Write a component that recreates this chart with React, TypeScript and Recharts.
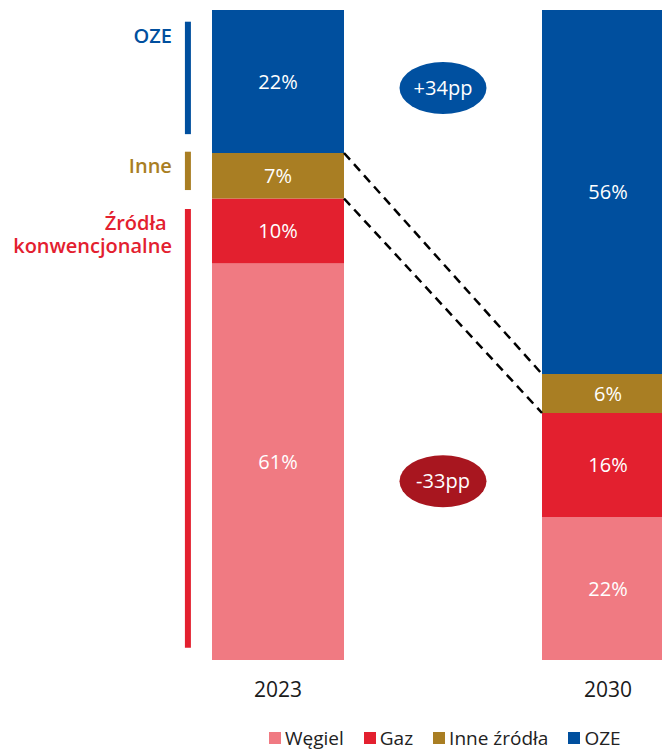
import { ComposedChart, Bar, XAxis, YAxis, ReferenceLine, ReferenceDot, Legend, LabelList } from "recharts";

const years = ["2023", "2030"];
const seriesNames = ["Węgiel", "Gaz", "Inne źródła", "OZE"];
const wegiel = [61, 22];
const gaz = [10, 16];
const inne = [7, 6];
const oze = [22, 56];

// brackets on the left of the 2023 bar (value ranges on the 0-100 scale)
const bracketNames = [["OZE"], ["Inne"], ["Źródła\u00a0", "konwencjonalne"]];
const bracketFrom = [80.9, 72.3, 1.9];
const bracketTo = [98.2, 78.2, 69.4];

// change bubbles between the bars
const bubbleText = ["+34pp", "-33pp"];
const bubbleY = [88, 27.5];

const C = { wegiel: "#f07a82", gaz: "#e3202f", inne: "#a97e23", oze: "#004f9e" };
const seriesColors = [C.wegiel, C.gaz, C.inne, C.oze];
const bracketColors = [C.oze, C.inne, C.gaz];
const bubbleColors = ["#0050a0", "#a8161f"];
const font = "'Open Sans', sans-serif";

const data = years.map((year, i) => ({
  pos: i,
  year,
  wegiel: wegiel[i],
  gaz: gaz[i],
  inne: inne[i],
  oze: oze[i],
}));

const gazTop = years.map((_, i) => wegiel[i] + gaz[i]);
const inneTop = years.map((_, i) => wegiel[i] + gaz[i] + inne[i]);

const barSize = 132;
const barHalf = 66 / 330; // half bar width in x units (330px per unit)
const bracketX = -0.273;

const pct = (v: any) => `${v}%`;

const bracketLabel = (lines: string[], color: string) => (props: any) => {
  const { x, y } = props.viewBox;
  return (
    <text x={x - 16} y={y + 21} textAnchor="end" fill={color} fontSize={20} fontWeight={600} fontFamily={font}>
      {lines.map((l, i) => (
        <tspan key={i} x={x - 16} dy={i === 0 ? 0 : 23} style={{ whiteSpace: "pre" }}>
          {l}
        </tspan>
      ))}
    </text>
  );
};

const bubble = (color: string) => (props: any) => (
  <ellipse cx={props.cx} cy={props.cy} rx={43.5} ry={26} fill={color} />
);

const renderLegend = () => (
  <div style={{ display: "flex", gap: 20, fontFamily: font, fontSize: 19, lineHeight: "20px", color: "#222" }}>
    {seriesNames.map((name, i) => (
      <div key={name} style={{ display: "flex", alignItems: "center", gap: 4 }}>
        <span style={{ width: 12, height: 12, background: seriesColors[i], display: "inline-block" }} />
        <span>{name}</span>
      </div>
    ))}
  </div>
);

export default function App() {
  return (
    <div style={{ position: "fixed", left: 0, top: 0, width: 662, height: 749, overflow: "hidden", background: "#fff" }}>
      <ComposedChart width={780} height={749} data={data} margin={{ top: 10, right: 7, left: 113, bottom: 49 }}>
        <XAxis
          type="number"
          dataKey="pos"
          domain={[-0.5, 1.5]}
          ticks={[0, 1]}
          tickFormatter={(v) => years[v] ?? ""}
          height={40}
          tickLine={false}
          axisLine={false}
          tickMargin={16}
          tick={{ fill: "#1a1a1a", fontSize: 21, fontFamily: font }}
        />
        <YAxis hide domain={[0, 100]} />
        <Bar dataKey="wegiel" name={seriesNames[0]} stackId="a" fill={C.wegiel} barSize={barSize} isAnimationActive={false}>
          <LabelList dataKey="wegiel" position="center" formatter={pct} fill="#fff" fontSize={20} fontFamily={font} />
        </Bar>
        <Bar dataKey="gaz" name={seriesNames[1]} stackId="a" fill={C.gaz} barSize={barSize} isAnimationActive={false}>
          <LabelList dataKey="gaz" position="center" formatter={pct} fill="#fff" fontSize={20} fontFamily={font} />
        </Bar>
        <Bar dataKey="inne" name={seriesNames[2]} stackId="a" fill={C.inne} barSize={barSize} isAnimationActive={false}>
          <LabelList dataKey="inne" position="center" formatter={pct} fill="#fff" fontSize={20} fontFamily={font} />
        </Bar>
        <Bar dataKey="oze" name={seriesNames[3]} stackId="a" fill={C.oze} barSize={barSize} isAnimationActive={false}>
          <LabelList dataKey="oze" position="center" formatter={pct} fill="#fff" fontSize={20} fontFamily={font} />
        </Bar>

        <ReferenceLine
          segment={[{ x: barHalf, y: inneTop[0] }, { x: 1 - barHalf, y: inneTop[1] }]}
          stroke="#000"
          strokeWidth={2.5}
          strokeDasharray="9 6"
        />
        <ReferenceLine
          segment={[{ x: barHalf, y: gazTop[0] }, { x: 1 - barHalf, y: gazTop[1] }]}
          stroke="#000"
          strokeWidth={2.5}
          strokeDasharray="9 6"
        />

        {bracketNames.map((lines, i) => (
          <ReferenceLine
            key={i}
            segment={[{ x: bracketX, y: bracketTo[i] }, { x: bracketX, y: bracketFrom[i] }]}
            stroke={bracketColors[i]}
            strokeWidth={6}
            label={bracketLabel(lines, bracketColors[i])}
          />
        ))}

        {bubbleText.map((t, i) => (
          <ReferenceDot
            key={t}
            x={0.5}
            y={bubbleY[i]}
            r={26}
            shape={bubble(bubbleColors[i])}
            label={{ value: t, position: "center", fill: "#fff", fontSize: 20, fontFamily: font }}
          />
        ))}

        <Legend
          verticalAlign="middle"
          align="center"
          layout="horizontal"
          wrapperStyle={{ top: 728, left: 269, width: 420, height: 20 }}
          content={renderLegend}
        />
      </ComposedChart>
    </div>
  );
}
